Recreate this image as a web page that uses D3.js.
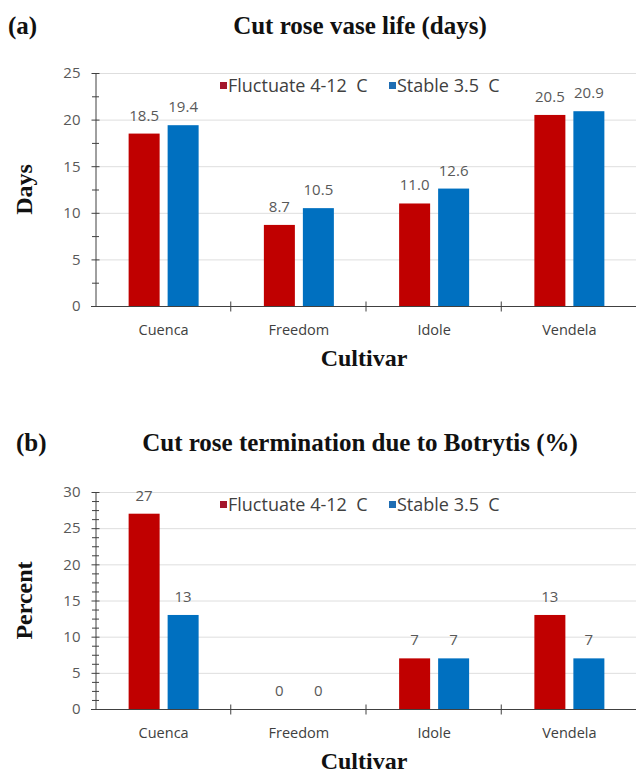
<!DOCTYPE html>
<html>
<head>
<meta charset="utf-8">
<script src="https://cdn.jsdelivr.net/npm/d3@7"></script>
<style>
  html, body { margin: 0; padding: 0; background: #fff; }
  svg { display: block; }
</style>
</head>
<body>
<svg id="chart" width="636" height="776"></svg>
<script>
// ---- data ----
const cultivars   = ["Cuenca", "Freedom", "Idole", "Vendela"];
const seriesNames = ["Fluctuate 4-12  C", "Stable 3.5  C"];
const vaseFluct   = [18.5, 8.7, 11.0, 20.5];
const vaseStable  = [19.4, 10.5, 12.6, 20.9];
const botFluct    = [27, 0, 7, 13];
const botStable   = [13, 0, 7, 7];
const vaseTicks   = [0, 5, 10, 15, 20, 25];
const botTicks    = [0, 5, 10, 15, 20, 25, 30];

const COLORS     = ["#c00000", "#0070c0"];
const LEG_COLORS = ["#a3162c", "#1f6db3"];
const SERIF = "'Liberation Serif', 'DejaVu Serif', serif";
const SANS  = "'Open Sans', 'Noto Sans', sans-serif";

const svg = d3.select("#chart");

function drawPanel(o) {
  const g = svg.append("g");
  const x = d3.scaleBand().domain(cultivars).range([96, 637]).padding(0);
  const xs = d3.scaleBand().domain(seriesNames)
    .range([x.bandwidth() / 2 - 35, x.bandwidth() / 2 + 35])
    .paddingInner(8 / 39).paddingOuter(0);
  const y = d3.scaleLinear().domain([0, o.ticks[o.ticks.length - 1]]).range([o.y0, o.yTop]);

  // panel letter + title
  g.append("text").attr("x", o.letterX).attr("y", o.titleY)
    .attr("font-family", SERIF).attr("font-weight", "bold").attr("font-size", 25)
    .attr("fill", "#111").text(o.letter);
  g.append("text").attr("x", 360).attr("y", o.titleY).attr("text-anchor", "middle")
    .attr("font-family", SERIF).attr("font-weight", "bold").attr("font-size", 25)
    .attr("fill", "#111").text(o.title);

  // gridlines
  g.append("g").selectAll("line").data(o.ticks.slice(1)).join("line")
    .attr("x1", 96).attr("x2", 636)
    .attr("y1", d => y(d) + 0.5).attr("y2", d => y(d) + 0.5)
    .attr("stroke", "#dedede").attr("stroke-width", 1);

  // minor ticks
  const top = o.ticks[o.ticks.length - 1];
  const minors = d3.range(0, top + 1e-9, o.minor).filter(v => !o.ticks.includes(v));
  g.append("g").selectAll("line").data(minors).join("line")
    .attr("x1", 92).attr("x2", 99)
    .attr("y1", d => y(d) + 0.5).attr("y2", d => y(d) + 0.5)
    .attr("stroke", "#404040");

  // y axis
  const yAxis = g.append("g").attr("transform", "translate(95.5,0)")
    .call(d3.axisLeft(y).tickValues(o.ticks).tickSize(4).tickPadding(11).tickSizeOuter(0));
  yAxis.select(".domain").attr("stroke", "#404040");
  yAxis.selectAll(".tick line").attr("x2", 4).attr("x1", -4).attr("stroke", "#404040");
  yAxis.selectAll(".tick text").attr("font-family", SANS).attr("font-size", 15)
    .attr("fill", "#595959");

  // bars
  const rows = cultivars.map((c, i) => ({ c, vals: [o.a[i], o.b[i]] }));
  const grp = g.append("g").selectAll("g").data(rows).join("g")
    .attr("transform", d => `translate(${x(d.c)},0)`);
  grp.selectAll("rect").data(d => d.vals.map((v, k) => ({ v, k }))).join("rect")
    .attr("x", d => xs(seriesNames[d.k]))
    .attr("width", xs.bandwidth())
    .attr("y", d => y(d.v))
    .attr("height", d => o.y0 - y(d.v))
    .attr("fill", d => COLORS[d.k]);
  grp.selectAll("text").data(d => d.vals.map((v, k) => ({ v, k }))).join("text")
    .attr("x", d => xs(seriesNames[d.k]) + xs.bandwidth() / 2)
    .attr("y", d => y(d.v) - 13)
    .attr("text-anchor", "middle")
    .attr("font-family", SANS).attr("font-size", 15).attr("fill", "#595959")
    .text(d => d3.format(o.fmt)(d.v));

  // x axis
  const xAxis = g.append("g").attr("transform", `translate(0,${o.y0 + 0.5})`);
  xAxis.append("line").attr("x1", 91).attr("x2", 636).attr("stroke", "#404040");
  xAxis.selectAll(".sep").data(cultivars.slice(1)).join("line")
    .attr("class", "sep")
    .attr("x1", d => x(d) - 0.5).attr("x2", d => x(d) - 0.5)
    .attr("y1", -5).attr("y2", 5).attr("stroke", "#404040");
  xAxis.selectAll(".lab").data(cultivars).join("text")
    .attr("class", "lab")
    .attr("x", d => x(d) + x.bandwidth() / 2)
    .attr("y", 28).attr("text-anchor", "middle")
    .attr("font-family", SANS).attr("font-size", 14.5).attr("fill", "#404040")
    .text(d => d);

  // axis titles
  g.append("text").attr("x", 364).attr("y", o.y0 + 60).attr("text-anchor", "middle")
    .attr("font-family", SERIF).attr("font-weight", "bold").attr("font-size", 24)
    .attr("fill", "#111").text("Cultivar");
  g.append("text")
    .attr("transform", `translate(32,${(o.y0 + o.yTop) / 2}) rotate(-90)`)
    .attr("text-anchor", "middle")
    .attr("font-family", SERIF).attr("font-weight", "bold").attr("font-size", 24)
    .attr("fill", "#111").text(o.ylabel);

  // legend
  const legX = [220, 389];
  const leg = g.append("g").selectAll("g").data(seriesNames).join("g")
    .attr("transform", (d, i) => `translate(${legX[i]},${o.yTop + 12})`);
  leg.append("rect").attr("x", 0).attr("y", -3).attr("width", 7).attr("height", 7)
    .attr("fill", (d, i) => LEG_COLORS[i]);
  leg.append("text").attr("x", 8).attr("y", 7)
    .attr("font-family", SANS).attr("font-size", 18).attr("fill", "#404040")
    .style("white-space", "pre")
    .text(d => d);
}

drawPanel({
  letter: "(a)", letterX: 8, title: "Cut rose vase life (days)", titleY: 34,
  ylabel: "Days", y0: 306, yTop: 73, ticks: vaseTicks, minor: 2.5,
  a: vaseFluct, b: vaseStable, fmt: ".1f"
});
drawPanel({
  letter: "(b)", letterX: 16, title: "Cut rose termination due to Botrytis (%)", titleY: 451,
  ylabel: "Percent", y0: 709, yTop: 492, ticks: botTicks, minor: 1.25,
  a: botFluct, b: botStable, fmt: "d"
});
</script>
</body>
</html>
